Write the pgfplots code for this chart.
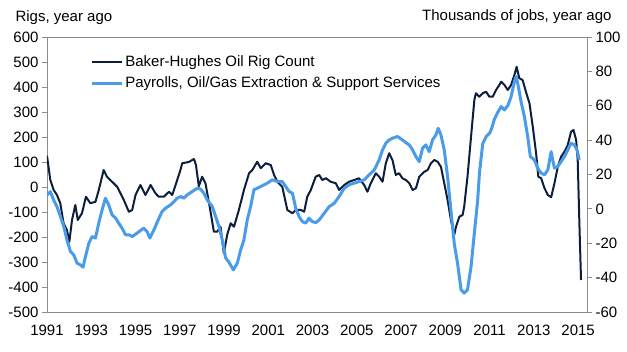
\documentclass[border=0pt]{standalone}
\usepackage{fontspec}
\setmainfont{Liberation Sans}
\usepackage{pgfplots}
\pgfplotsset{compat=1.18}
\definecolor{rigc}{HTML}{0C1E3C}
\definecolor{payc}{HTML}{4A9BE8}
\definecolor{axc}{HTML}{8C8C8C}
\begin{document}
\begin{tikzpicture}
\pgfplotsset{
  base/.style={
    scale only axis, width=540pt, height=275pt,
    xmin=1991, xmax=2015.4,
    /pgf/number format/assume math mode=true,
    /pgf/number format/1000 sep={},
    tick label style={font=\fontsize{15}{18}\selectfont, black},
    axis line style={axc, line width=0.9pt},
    every tick/.style={axc, line width=0.9pt},
    major tick length=5pt,
    tick align=outside,
    clip mode=individual,
  }
}
\begin{axis}[base,
  ymin=-500, ymax=600, ytick={-500,-400,...,600},
  ytick pos=left,
  xtick={1991,1993,...,2015},
  xtick style={draw=none},
  xticklabel style={yshift=-4pt},
  legend style={at={(0.08,0.94)}, anchor=north west, draw=none, fill=none,
    font=\fontsize{15}{18}\selectfont, row sep=5pt, inner sep=0pt,
    legend cell align=left},
  legend image code/.code={\draw[#1] (0pt,0pt) -- (30pt,0pt);},
]
\addplot[rigc, line width=2pt, line join=round] coordinates {
(1991.00,125) (1991.15,28) (1991.30,-12) (1991.45,-32) (1991.60,-65) (1991.75,-145)
(1991.90,-172) (1992.01,-219) (1992.13,-132) (1992.28,-72) (1992.39,-132) (1992.58,-105)
(1992.76,-39) (1992.96,-65) (1993.19,-59) (1993.34,-12) (1993.56,68) (1993.71,41)
(1993.94,21) (1994.17,1) (1994.47,-52) (1994.70,-99) (1994.85,-92) (1995.00,-32)
(1995.22,8) (1995.45,-32) (1995.68,8) (1995.90,-25) (1996.05,-39) (1996.28,-39)
(1996.51,-19) (1996.66,-32) (1996.81,8) (1997.03,68) (1997.11,95) (1997.41,100)
(1997.64,112) (1997.73,88) (1997.86,3) (1998.01,41) (1998.16,15) (1998.39,-99)
(1998.54,-179) (1998.69,-179) (1998.84,-159) (1998.99,-265) (1999.14,-192) (1999.30,-145)
(1999.45,-159) (1999.67,-92) (1999.90,-12) (2000.13,55) (2000.28,68) (2000.50,101)
(2000.66,75) (2000.88,95) (2001.11,88) (2001.26,48) (2001.41,21) (2001.63,1)
(2001.86,-92) (2002.09,-105) (2002.24,-92) (2002.47,-92) (2002.62,-99) (2002.76,-39)
(2002.92,-12) (2003.14,41) (2003.30,48) (2003.44,28) (2003.60,35) (2003.82,21)
(2004.05,15) (2004.20,-12) (2004.43,8) (2004.65,21) (2004.88,28) (2005.10,35)
(2005.33,8) (2005.48,-19) (2005.63,15) (2005.86,55) (2006.01,41) (2006.16,21)
(2006.31,95) (2006.46,135) (2006.61,108) (2006.76,48) (2006.91,55) (2007.06,35)
(2007.22,28) (2007.37,15) (2007.52,-12) (2007.67,-5) (2007.82,41) (2008.05,61)
(2008.20,68) (2008.35,95) (2008.50,108) (2008.65,101) (2008.80,81) (2008.95,15)
(2009.10,-52) (2009.25,-132) (2009.40,-192) (2009.48,-159) (2009.63,-119) (2009.78,-112)
(2009.85,-79) (2010.00,41) (2010.16,201) (2010.31,348) (2010.38,375) (2010.53,361)
(2010.69,375) (2010.84,381) (2010.99,361) (2011.14,361) (2011.29,388) (2011.44,408)
(2011.52,421) (2011.67,408) (2011.82,388) (2011.97,408) (2012.12,448) (2012.22,481)
(2012.34,435) (2012.49,428) (2012.64,381) (2012.80,335) (2012.95,241) (2013.10,135)
(2013.20,41) (2013.33,35) (2013.48,-5) (2013.63,-32) (2013.78,-41) (2013.93,15)
(2014.08,81) (2014.23,121) (2014.38,141) (2014.53,168) (2014.68,221) (2014.79,228)
(2014.91,188) (2014.98,108) (2015.06,-159) (2015.13,-372)
};
\addlegendentry{Baker-Hughes Oil Rig Count}
\addlegendimage{payc, line width=3pt}
\addlegendentry{Payrolls, Oil/Gas Extraction \& Support Services}
\end{axis}
\begin{axis}[base,
  ymin=-60, ymax=100, ytick={-60,-40,...,100},
  axis y line*=right, axis x line=none,
]
\addplot[payc, line width=3pt, line join=round] coordinates {
(1991.00,8.1) (1991.15,10) (1991.30,5.2) (1991.45,1.3) (1991.61,-4.5) (1991.76,-10.3)
(1991.90,-18) (1992.06,-24.8) (1992.21,-26.8) (1992.36,-31.6) (1992.51,-32.6) (1992.63,-33.9)
(1992.74,-27.7) (1992.89,-20) (1993.04,-16.1) (1993.19,-17) (1993.34,-8.3) (1993.49,-0.6)
(1993.64,6.2) (1993.79,2.3) (1993.94,-3.5) (1994.10,-5.4) (1994.24,-8.3) (1994.39,-11.2)
(1994.55,-15.1) (1994.70,-15.1) (1994.85,-16.1) (1995.07,-14.1) (1995.37,-11.2) (1995.52,-13.2)
(1995.65,-17) (1995.83,-12.2) (1996.06,-5.4) (1996.20,-1.6) (1996.36,0.4) (1996.58,2.3)
(1996.73,4.2) (1996.88,6.2) (1997.04,7.2) (1997.18,6.2) (1997.33,8.1) (1997.56,10.1)
(1997.79,12) (1997.94,11.5) (1998.09,9.1) (1998.24,5.2) (1998.47,1.3) (1998.62,-4.5)
(1998.77,-10.3) (1998.92,-18) (1999.07,-28.5) (1999.22,-31) (1999.42,-35.5) (1999.60,-31.6)
(1999.75,-23.9) (1999.90,-18) (2000.05,-6.4) (2000.20,1.3) (2000.35,11.1) (2000.50,12)
(2000.66,13) (2000.81,14) (2000.96,15) (2001.18,16.9) (2001.41,15.9) (2001.63,15.9)
(2001.79,13) (2001.94,10.1) (2002.09,9.1) (2002.24,0.4) (2002.39,-4.5) (2002.54,-7.4)
(2002.69,-8.3) (2002.84,-5.4) (2002.99,-7.4) (2003.15,-8) (2003.30,-6.4) (2003.53,-2.5)
(2003.75,1.3) (2003.98,3.3) (2004.20,7.2) (2004.43,12) (2004.65,14) (2004.88,15)
(2005.11,15.9) (2005.33,16.9) (2005.56,19.8) (2005.79,22.7) (2006.01,28.5) (2006.16,34.3)
(2006.31,38.2) (2006.46,40.1) (2006.61,41.1) (2006.84,42.1) (2007.06,40.1) (2007.22,38.5)
(2007.37,37.2) (2007.52,34.3) (2007.67,30.4) (2007.82,27.5) (2007.97,35.3) (2008.12,37.2)
(2008.27,33.3) (2008.42,40.1) (2008.57,43) (2008.68,46.9) (2008.80,43) (2008.95,34.3)
(2009.10,18.8) (2009.25,-0.6) (2009.40,-20) (2009.55,-31.6) (2009.71,-47.1) (2009.85,-49)
(2010.00,-47.1) (2010.16,-33.6) (2010.31,-14.1) (2010.46,5) (2010.54,21) (2010.69,38)
(2010.84,42) (2011.00,44) (2011.10,47) (2011.21,52) (2011.36,56) (2011.52,59.5) (2011.67,57.6)
(2011.82,60) (2011.97,65.3) (2012.12,74.1) (2012.20,77) (2012.30,71.1) (2012.42,62.4)
(2012.57,53.7) (2012.72,42.1) (2012.84,30.4) (2013.02,28.5) (2013.17,23.7) (2013.33,20.8)
(2013.48,19.8) (2013.63,22.7) (2013.78,33.3) (2013.85,28.5) (2013.93,23.7) (2014.08,24.6)
(2014.23,27.5) (2014.38,30.4) (2014.53,34.3) (2014.68,38.2) (2014.83,37.2) (2014.95,34.3)
(2015.05,28.5)
};
\end{axis}
\node[anchor=base west, font=\fontsize{15}{18}\selectfont] at (-35pt,290pt) {Rigs, year ago};
\node[anchor=base east, font=\fontsize{15}{18}\selectfont] at (568pt,291pt) {Thousands of jobs, year ago};
\path[use as bounding box] (-47pt,-40pt) rectangle (580pt,312pt);
\end{tikzpicture}
\end{document}
